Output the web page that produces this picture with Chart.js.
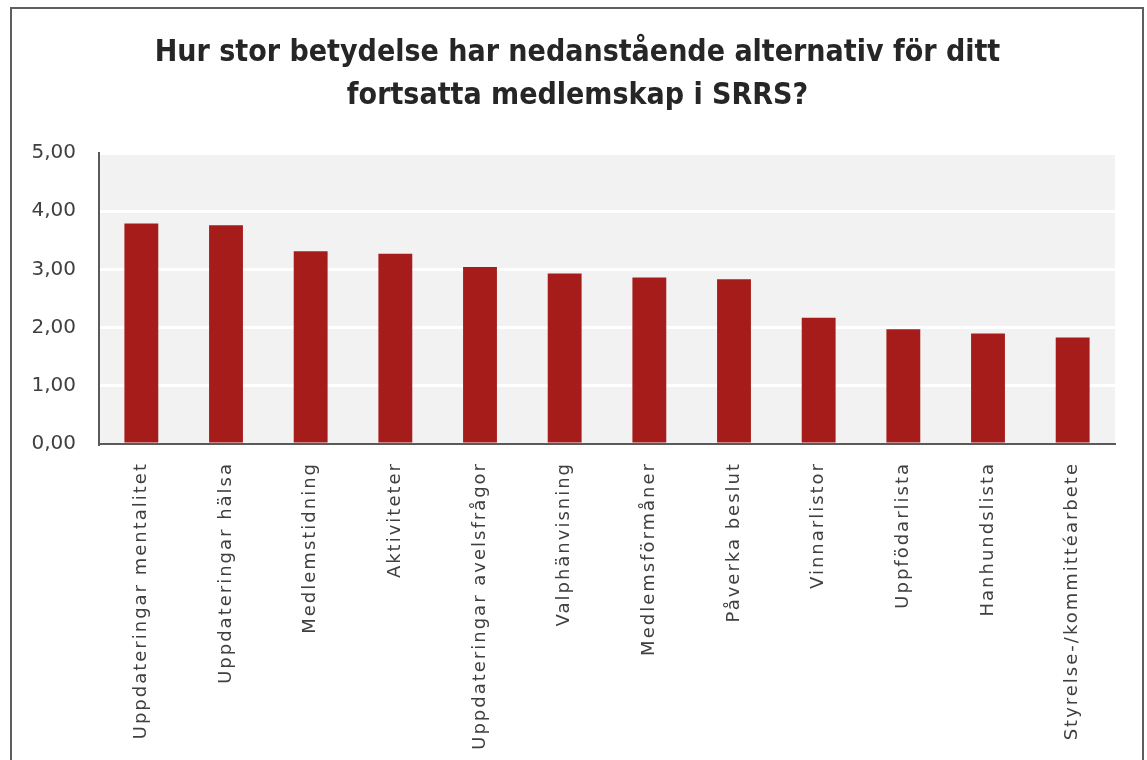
<!DOCTYPE html>
<html>
<head>
<meta charset="utf-8">
<script src="https://cdn.jsdelivr.net/npm/chart.js@4/dist/chart.umd.min.js"></script>
<style>
  html, body { margin: 0; padding: 0; background: #ffffff; }
  #wrap { position: relative; width: 1147px; height: 760px; overflow: hidden; }
  #chart { position: absolute; left: 0; top: 0; }
  #frame {
    position: absolute; left: 10px; top: 7px; width: 1130px; height: 800px;
    border: 2px solid #5f5f5f; pointer-events: none;
  }
</style>
</head>
<body>
<div id="wrap">
  <canvas id="chart" width="1147" height="760"></canvas>
  <div id="frame"></div>
</div>
<script>
// Chart data
const titleLines = [
  'Hur stor betydelse har nedanstående alternativ för ditt',
  'fortsatta medlemskap i SRRS?'
];
const categories = [
  'Uppdateringar mentalitet',
  'Uppdateringar hälsa',
  'Medlemstidning',
  'Aktiviteter',
  'Uppdateringar avelsfrågor',
  'Valphänvisning',
  'Medlemsförmåner',
  'Påverka beslut',
  'Vinnarlistor',
  'Uppfödarlista',
  'Hanhundslista',
  'Styrelse-/kommittéarbete'
];
const meanScores = [3.79, 3.76, 3.31, 3.27, 3.04, 2.93, 2.86, 2.83, 2.17, 1.97, 1.90, 1.83];
const yTicks = [0, 1, 2, 3, 4, 5];

const textColor = '#404040';
const barColor = '#a51c1a';

// Light grey plot background behind the white gridlines
const plotBackground = {
  id: 'plotBackground',
  beforeDraw(chart) {
    const { ctx, chartArea: a } = chart;
    ctx.save();
    ctx.fillStyle = '#f2f2f2';
    ctx.fillRect(a.left, a.top, a.right - a.left, a.bottom - a.top);
    ctx.restore();
  }
};

// Category labels are drawn with wide letter spacing (x tick layer runs after the bars)
const labelSpacing = {
  id: 'labelSpacing',
  afterDatasetsDraw(chart) { chart.ctx.letterSpacing = '2px'; },
  afterDraw(chart) { chart.ctx.letterSpacing = '0px'; }
};

new Chart(document.getElementById('chart').getContext('2d'), {
  type: 'bar',
  data: {
    labels: categories,
    datasets: [{
      data: meanScores,
      backgroundColor: barColor,
      borderWidth: 0,
      categoryPercentage: 1,
      barPercentage: 0.4
    }]
  },
  plugins: [plotBackground, labelSpacing],
  options: {
    responsive: false,
    animation: false,
    layout: { padding: { left: 20, right: 12, top: 0, bottom: 0 } },
    plugins: {
      legend: { display: false },
      tooltip: { enabled: false },
      title: {
        display: true,
        text: titleLines,
        color: '#262626',
        font: { family: "'Liberation Sans Narrow', 'DejaVu Sans Condensed', sans-serif", size: 30, weight: 'bold', lineHeight: 1.45 },
        padding: { top: 31, bottom: 35 }
      }
    },
    scales: {
      x: {
        grid: { display: false, drawTicks: false },
        border: { display: true, color: '#5a5a5a', width: 2, z: 1 },
        ticks: {
          z: 1,
          color: textColor,
          font: { family: "'DejaVu Sans', sans-serif", size: 18 },
          minRotation: 90,
          maxRotation: 90,
          autoSkip: false,
          padding: 18
        },
        afterFit(scale) { scale.height = 316; }
      },
      y: {
        min: 0,
        max: 5,
        afterBuildTicks(scale) { scale.ticks = yTicks.map(v => ({ value: v })); },
        grid: { color: '#ffffff', lineWidth: 3, drawTicks: false },
        border: { display: true, color: '#5a5a5a', width: 2 },
        ticks: {
          color: textColor,
          font: { family: "'DejaVu Sans', sans-serif", size: 20 },
          padding: 23,
          callback: v => v.toFixed(2).replace('.', ',')
        },
        afterFit(scale) { scale.width = 79; }
      },
      // empty right-hand scale so the title centres on the framed area
      yRight: {
        position: 'right',
        display: true,
        grid: { display: false, drawTicks: false },
        border: { display: false },
        ticks: { display: false },
        afterFit(scale) { scale.width = 20; }
      }
    }
  }
});
</script>
</body>
</html>
